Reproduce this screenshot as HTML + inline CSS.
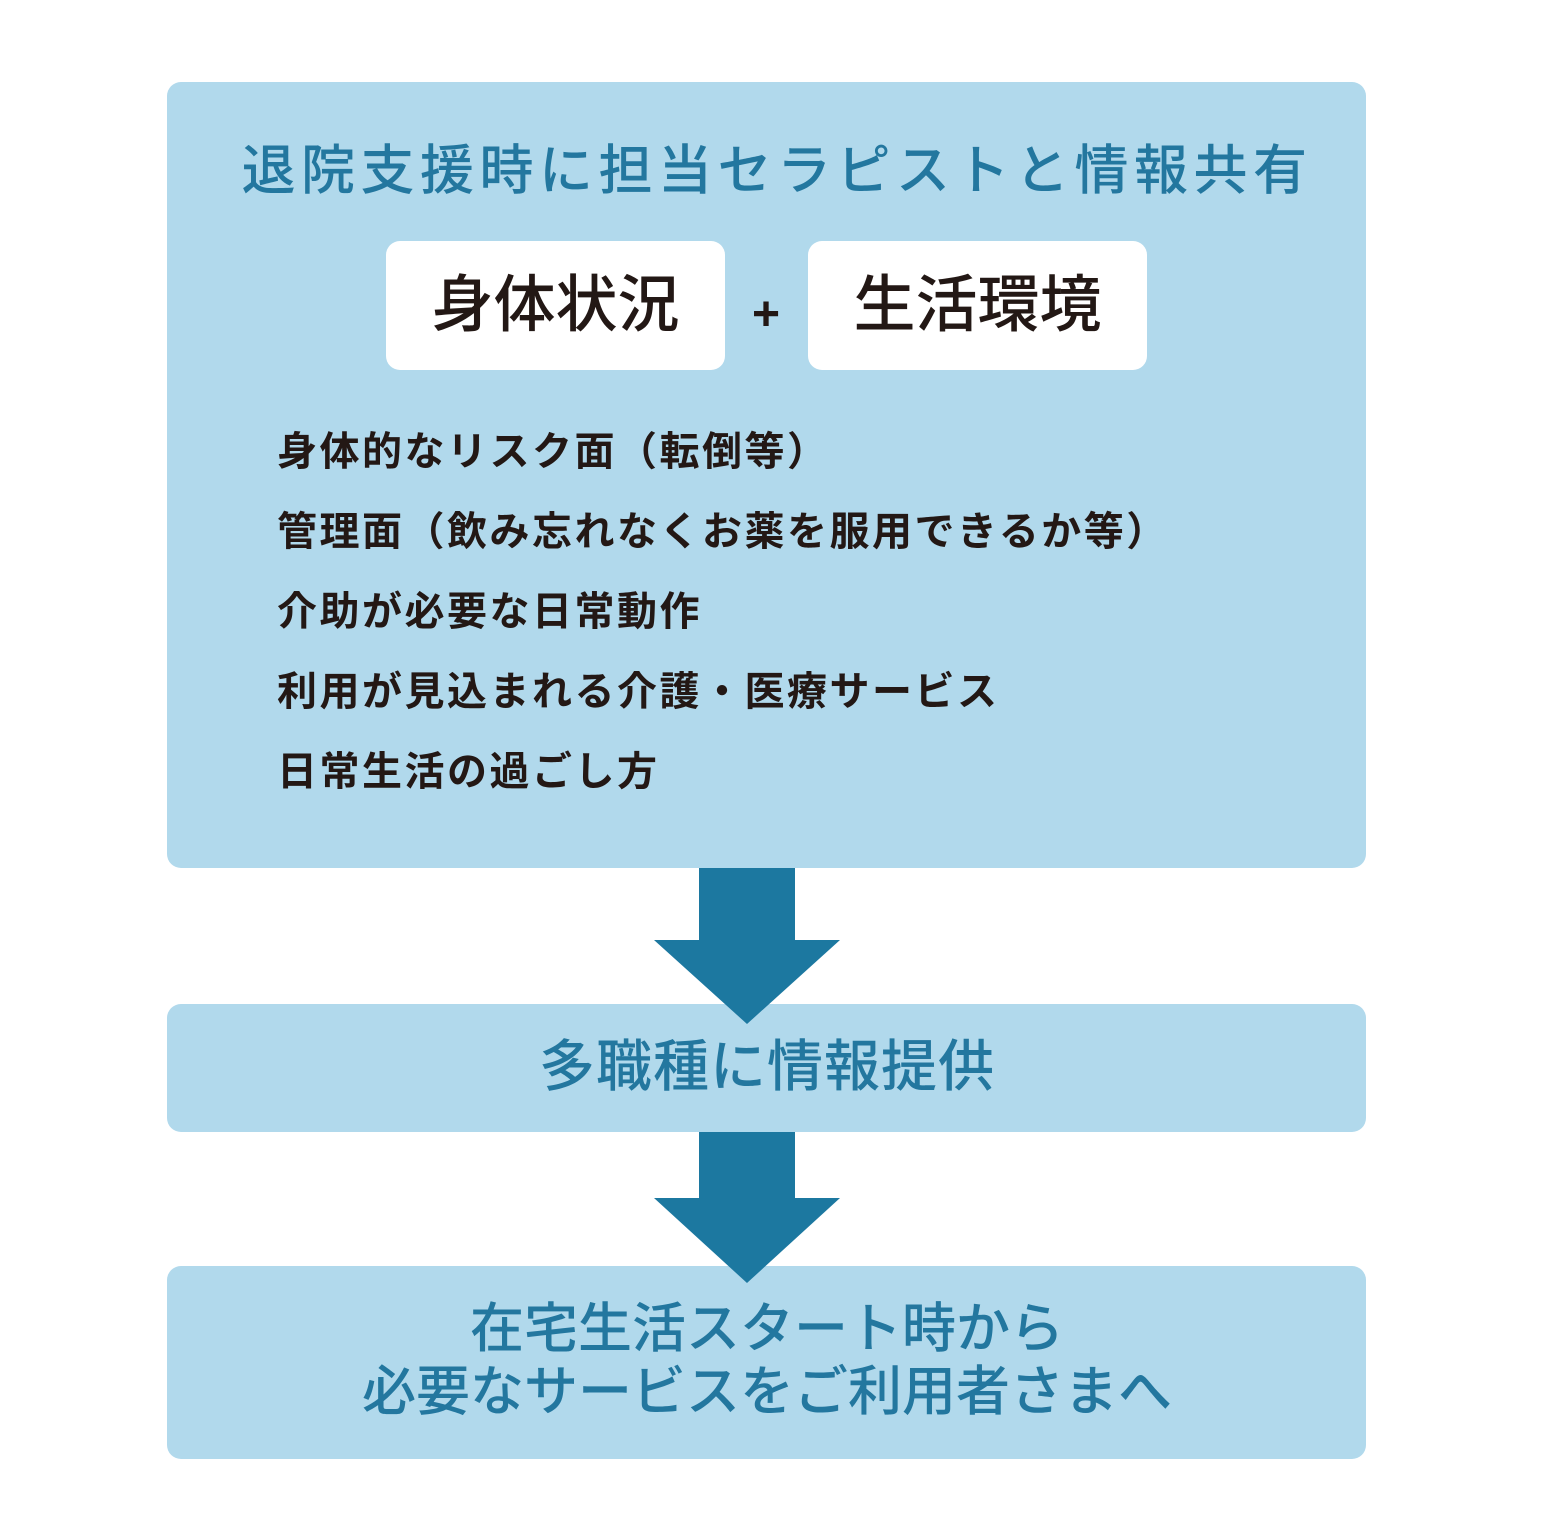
<!DOCTYPE html>
<html><head><meta charset="utf-8"><style>
body{margin:0;width:1554px;height:1522px;background:#fff;position:relative;overflow:hidden;font-family:"Liberation Sans","Noto Sans CJK JP",sans-serif}
.b{position:absolute;background:#b1d9ec;border-radius:14px}
.t{position:absolute;left:0;width:100%;text-align:center;color:#23779f;font-weight:500;white-space:nowrap}
.w{position:absolute;background:#fff;border-radius:14px;top:241px;height:129px;width:339px;font-size:62px;line-height:129px;text-align:center;color:#231815;font-weight:500}
.l{position:absolute;left:277px;font-size:40px;font-weight:700;color:#231815;white-space:nowrap;line-height:48px;letter-spacing:2.5px}
</style></head><body>
<div class="b" style="left:167px;top:82px;width:1199px;height:786px"></div>
<div class="t" style="top:136px;font-size:54px;line-height:70px;letter-spacing:5.5px;left:0">退院支援時に担当セラピストと情報共有</div>
<div class="w" style="left:386px">身体状況</div>
<div class="w" style="left:808px">生活環境</div>
<div style="position:absolute;left:741px;top:290px;width:50px;text-align:center;font-size:48px;font-weight:700;color:#231815;line-height:50px">+</div>
<div class="l" style="top:428px">身体的なリスク面（転倒等）</div>
<div class="l" style="top:508px">管理面（飲み忘れなくお薬を服用できるか等）</div>
<div class="l" style="top:588px">介助が必要な日常動作</div>
<div class="l" style="top:668px">利用が見込まれる介護・医療サービス</div>
<div class="l" style="top:748px">日常生活の過ごし方</div>
<div class="b" style="left:167px;top:1004px;width:1199px;height:128px"></div>
<div class="b" style="left:167px;top:1266px;width:1199px;height:193px"></div>
<svg style="position:absolute;left:0;top:0" width="1554" height="1522">
<polygon fill="#1c78a0" points="699,868 795,868 795,940 840,940 747,1024 654,940 699,940"/>
<polygon fill="#1c78a0" points="699,1132 795,1132 795,1198 840,1198 747,1283 654,1198 699,1198"/>
</svg>
<div class="t" style="top:1032px;font-size:56px;line-height:70px;left:-10px;letter-spacing:1px">多職種に情報提供</div>
<div class="t" style="top:1296px;font-size:54px;line-height:66px;left:-10px">在宅生活スタート時から</div>
<div class="t" style="top:1359px;font-size:54px;line-height:66px;left:-10px">必要なサービスをご利用者さまへ</div>
</body></html>
